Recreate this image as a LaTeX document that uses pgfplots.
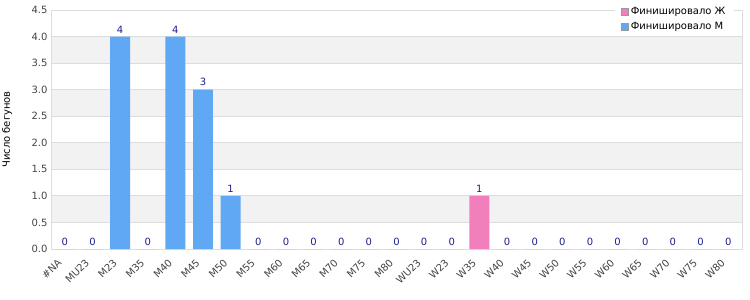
\documentclass[border=0pt]{standalone}
\usepackage{pgfplots}
\pgfplotsset{compat=1.18}
\usepackage{fontspec}
\setmainfont{DejaVu Sans}
\definecolor{barM}{HTML}{60A8F3}
\definecolor{barW}{HTML}{F17FBB}
\definecolor{lbl}{HTML}{1E1E8C}
\definecolor{band}{HTML}{F2F2F2}
\definecolor{gridc}{HTML}{DDDDDD}
\definecolor{txt}{HTML}{444444}
\begin{document}
\begin{tikzpicture}
\begin{axis}[
  name=ax,
  set layers=standard,
  scale only axis,
  width=691pt, height=239pt,
  xmin=-0.5, xmax=24.5,
  ymin=0, ymax=4.5,
  ytick={0,0.5,...,4.5},
  yticklabel style={/pgf/number format/fixed, /pgf/number format/fixed zerofill, /pgf/number format/precision=1},
  /pgf/number format/assume math mode=true,
  xtick={0,...,24},
  xticklabels={\#NA,MU23,M23,M35,M40,M45,M50,M55,M60,M65,M70,M75,M80,WU23,W23,W35,W40,W45,W50,W55,W60,W65,W70,W75,W80},
  y tick label style={font=\fontsize{10}{12}\selectfont, text=txt},
  major tick length=0pt,
  ymajorgrids,
  grid style={gridc, line width=0.8pt},
  axis line style={gridc, line width=0.8pt},
  ylabel={Число бегунов},
  ylabel style={font=\fontsize{10}{12}\selectfont, text=black, at={(axis description cs:-0.0637,0.5)}, anchor=center},
  ybar, bar width=0.72, bar shift=0pt,
  nodes near coords,
  nodes near coords style={font=\fontsize{10}{12}\selectfont, text=lbl},
  legend style={at={(rel axis cs:0.988,1.03)}, anchor=north east, draw=none, fill=white,
    font=\fontsize{10}{12}\selectfont, text=black, row sep=2pt, inner xsep=6pt, inner ysep=2pt,
    nodes={inner xsep=2pt}},
  legend cell align=left,
  legend image code/.code={\draw[#1, draw=black!40, line width=0.4pt] (0pt,-3.5pt) rectangle (7pt,3.5pt);},
  xticklabel style={font=\fontsize{10}{12}\selectfont, text=txt, inner sep=1pt, rotate=45, anchor=north east, xshift=-11pt},
]
\begin{pgfonlayer}{axis background}
  \fill[band] (axis cs:-0.5,0.5) rectangle (axis cs:24.5,1.0);
  \fill[band] (axis cs:-0.5,1.5) rectangle (axis cs:24.5,2.0);
  \fill[band] (axis cs:-0.5,2.5) rectangle (axis cs:24.5,3.0);
  \fill[band] (axis cs:-0.5,3.5) rectangle (axis cs:24.5,4.0);
\end{pgfonlayer}
\addplot[fill=barW, draw=none] coordinates {
  (13,0) (14,0) (15,1) (16,0) (17,0) (18,0) (19,0) (20,0) (21,0) (22,0) (23,0) (24,0)
};
\addlegendentry{Финишировало Ж}
\addplot[fill=barM, draw=none] coordinates {
  (0,0) (1,0) (2,4) (3,0) (4,4) (5,3) (6,1) (7,0) (8,0) (9,0) (10,0) (11,0) (12,0)
};
\addlegendentry{Финишировало М}
\end{axis}
\pgfresetboundingbox
\path (ax.south west) ++(-51pt,-51pt) rectangle ++(750pt,300pt);
\end{tikzpicture}
\end{document}
